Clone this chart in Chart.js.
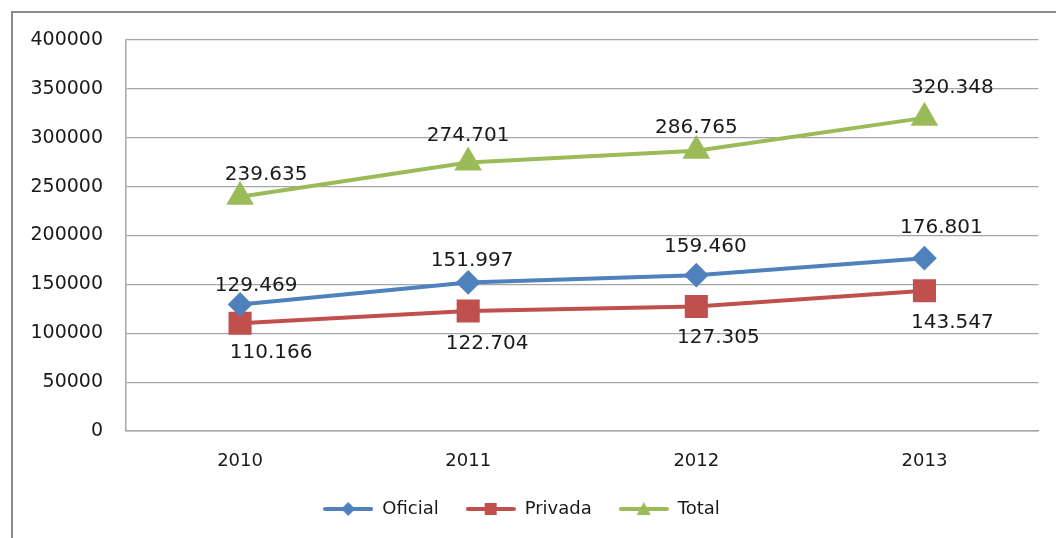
<!DOCTYPE html>
<html>
<head>
<meta charset="utf-8">
<script src="https://cdn.jsdelivr.net/npm/chart.js@4.4.1/dist/chart.umd.min.js"></script>
<style>
  html, body { margin: 0; padding: 0; background: #fff; }
  #wrap { width: 1056px; height: 538px; }
</style>
</head>
<body>
<div id="wrap"><canvas id="chart" width="1056" height="538"></canvas></div>
<script>
const years = ['2010', '2011', '2012', '2013'];
const oficial = [129469, 151997, 159460, 176801];
const privada = [110166, 122704, 127305, 143547];
const total = [239635, 274701, 286765, 320348];

const FONT = 'DejaVu Sans';
const GRID = '#a6a6a6';

function fmt(v) {
    return String(v).replace(/\B(?=(\d{3})+(?!\d))/g, '.');
}

// legend swatch: a line with the marker in the middle
function swatch(color, shape) {
    const c = document.createElement('canvas');
    c.width = 50; c.height = 20;
    const g = c.getContext('2d');
    g.strokeStyle = color;
    g.lineWidth = 4;
    g.lineCap = 'round';
    g.beginPath(); g.moveTo(2, 10); g.lineTo(48, 10); g.stroke();
    g.fillStyle = color;
    g.beginPath();
    if (shape === 'diamond') {
        g.moveTo(25, 3); g.lineTo(32, 10); g.lineTo(25, 17); g.lineTo(18, 10);
    } else if (shape === 'square') {
        g.rect(19, 4, 12, 12);
    } else {
        g.moveTo(25, 3); g.lineTo(32, 16); g.lineTo(18, 16);
    }
    g.closePath(); g.fill();
    return c;
}

const framePlugin = {
    id: 'frame',
    beforeDraw(chart) {
        const ctx = chart.ctx;
        ctx.save();
        ctx.fillStyle = '#fff';
        ctx.fillRect(0, 0, chart.width, chart.height);
        ctx.strokeStyle = '#8c8c8c';
        ctx.lineWidth = 2;
        ctx.beginPath();
        ctx.moveTo(12, chart.height + 2);
        ctx.lineTo(12, 12);
        ctx.lineTo(chart.width + 2, 12);
        ctx.stroke();
        ctx.restore();
    }
};

const labelPlugin = {
    id: 'valueLabels',
    afterDatasetsDraw(chart) {
        const ctx = chart.ctx;
        ctx.save();
        ctx.font = '20px "' + FONT + '"';
        ctx.fillStyle = '#1a1a1a';
        ctx.textAlign = 'center';
        ctx.textBaseline = 'middle';
        chart.data.datasets.forEach((ds, i) => {
            const meta = chart.getDatasetMeta(i);
            meta.data.forEach((pt, j) => {
                const off = ds.labelOffsets[j];
                ctx.fillText(fmt(ds.data[j]), pt.x + off[0], pt.y + off[1]);
            });
        });
        ctx.restore();
    }
};

new Chart(document.getElementById('chart'), {
    type: 'line',
    data: {
        labels: years,
        datasets: [
            {
                label: 'Oficial',
                data: oficial,
                borderColor: '#4f81bd',
                backgroundColor: '#4f81bd',
                borderWidth: 4,
                pointStyle: 'rectRot',
                pointRadius: 9.5,
                pointHoverRadius: 9.5,
                legendStyle: swatch('#4f81bd', 'diamond'),
                labelOffsets: [[16, -19], [4, -22], [9, -28], [17, -30]]
            },
            {
                label: 'Privada',
                data: privada,
                borderColor: '#c0504d',
                backgroundColor: '#c0504d',
                borderWidth: 4,
                pointStyle: 'rect',
                pointRadius: 13.5,
                pointHoverRadius: 13.5,
                legendStyle: swatch('#c0504d', 'square'),
                labelOffsets: [[31, 29], [19, 33], [22, 31], [28, 32]]
            },
            {
                label: 'Total',
                data: total,
                borderColor: '#9bbb59',
                backgroundColor: '#9bbb59',
                borderWidth: 4,
                pointStyle: 'triangle',
                pointRadius: 12,
                pointHoverRadius: 12,
                legendStyle: swatch('#9bbb59', 'triangle'),
                labelOffsets: [[26, -22], [0, -27], [0, -23], [28, -30]]
            }
        ]
    },
    options: {
        responsive: false,
        animation: false,
        layout: { padding: { top: 40, right: 13, left: 0, bottom: 10 } },
        plugins: {
            tooltip: { enabled: false },
            legend: {
                position: 'bottom',
                labels: {
                    usePointStyle: true,
                    pointStyleWidth: 50,
                    padding: 27,
                    color: '#1a1a1a',
                    font: { family: FONT, size: 18 },
                    generateLabels(chart) {
                        return chart.data.datasets.map((ds, i) => ({
                            text: ds.label,
                            pointStyle: ds.legendStyle,
                            fillStyle: ds.borderColor,
                            strokeStyle: ds.borderColor,
                            lineWidth: 0,
                            fontColor: '#1a1a1a',
                            datasetIndex: i,
                            hidden: false
                        }));
                    }
                }
            }
        },
        scales: {
            x: {
                offset: true,
                grid: { display: false, drawTicks: false },
                border: { display: true, color: GRID, width: 1.5 },
                ticks: { color: '#1a1a1a', padding: 20, font: { family: FONT, size: 18 } },
                afterFit(s) { s.height = 42; }
            },
            y: {
                min: 0,
                max: 400000,
                grid: { color: GRID, lineWidth: 1.2, drawTicks: false },
                border: { display: true, color: GRID, width: 1.5 },
                ticks: {
                    stepSize: 50000,
                    padding: 23,
                    color: '#1a1a1a',
                    font: { family: FONT, size: 19 },
                    callback: v => String(v)
                },
                afterFit(s) { s.width = 126; }
            }
        }
    },
    plugins: [framePlugin, labelPlugin]
});
</script>
</body>
</html>
